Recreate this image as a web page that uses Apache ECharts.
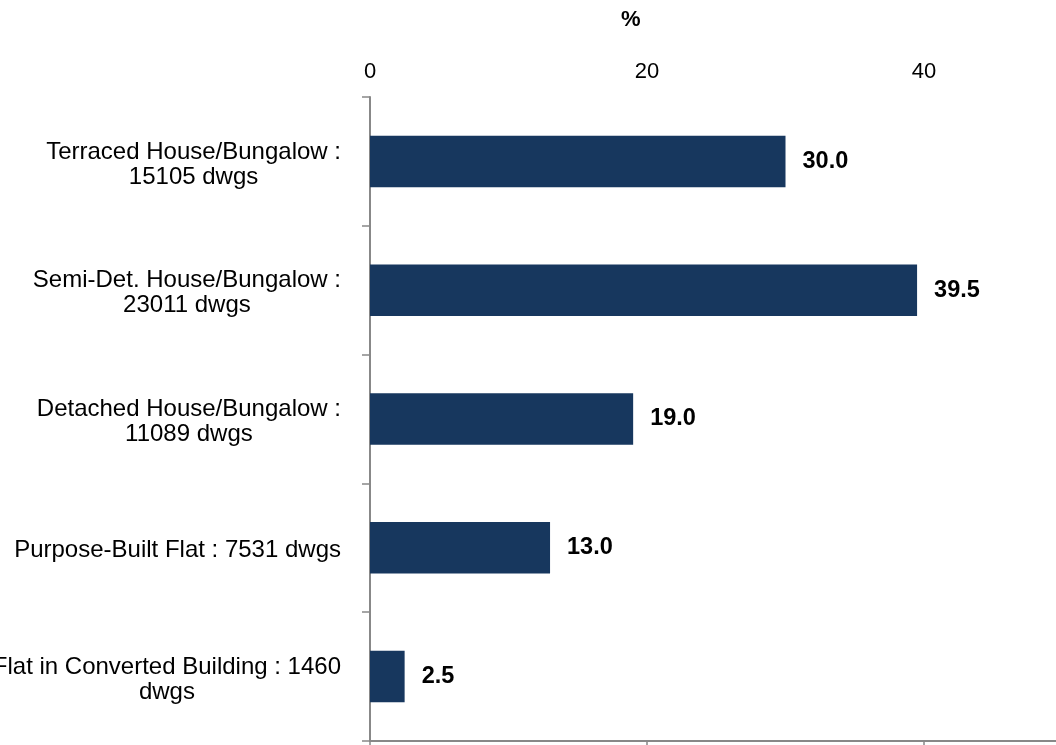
<!DOCTYPE html>
<html>
<head>
<meta charset="utf-8">
<script src="https://cdn.jsdelivr.net/npm/echarts@6/dist/echarts.min.js"></script>
<style>
  html, body { margin: 0; padding: 0; background: #fff; }
  #main { width: 1056px; height: 745px; }
</style>
</head>
<body>
<div id="main"></div>
<script>
// chart data
var categories = [
  "Terraced House/Bungalow :\n15105 dwgs",
  "Semi-Det. House/Bungalow :\n23011 dwgs",
  "Detached House/Bungalow :\n11089 dwgs",
  "Purpose-Built Flat : 7531 dwgs",
  "Flat in Converted Building : 1460\ndwgs"
];
var shares = [30.0, 39.5, 19.0, 13.0, 2.5];
// axis runs past the right edge of the picture
var xTicks = { min: 0, max: 50, interval: 20 };

var font = "Liberation Sans, Arial, sans-serif";
var mychart = echarts.init(document.getElementById("main"));

var axisCommon = {
  type: "value",
  min: xTicks.min,
  max: xTicks.max,
  interval: xTicks.interval,
  splitLine: { show: false }
};

mychart.setOption({
  animation: false,
  title: {
    text: "%",
    left: 616,
    top: 4,
    textStyle: { fontFamily: font, fontSize: 22, fontWeight: "bold", color: "#000" }
  },
  grid: {
    left: 370,
    top: 97,
    width: 692.5,
    bottom: 4,
    containLabel: false,
    outerBoundsMode: "none"
  },
  xAxis: [
    Object.assign({}, axisCommon, {
      position: "bottom",
      axisLine: { show: true, lineStyle: { color: "#888", width: 2 } },
      axisTick: { show: true, length: 6, lineStyle: { color: "#888", width: 1.5 } },
      axisLabel: { show: false }
    }),
    Object.assign({}, axisCommon, {
      position: "top",
      axisLine: { show: false },
      axisTick: { show: false },
      axisLabel: {
        show: true,
        margin: 14,
        showMaxLabel: false,
        fontFamily: font,
        fontSize: 22,
        color: "#000"
      }
    })
  ],
  yAxis: {
    type: "category",
    inverse: true,
    data: categories,
    axisLine: { show: true, lineStyle: { color: "#888", width: 2 } },
    axisTick: { show: true, length: 8, lineStyle: { color: "#888", width: 1.5 } },
    axisLabel: {
      margin: 29,
      align: "right",
      padding: [6, 0, 0, 0],
      fontFamily: font,
      fontSize: 24,
      color: "#000",
      lineHeight: 25,
      formatter: function (v) {
        return v.split("\n").map(function (s) { return "{c|" + s + "}"; }).join("\n");
      },
      rich: {
        c: { align: "center", fontFamily: font, fontSize: 24, lineHeight: 25, color: "#000" }
      }
    }
  },
  series: [
    {
      type: "bar",
      xAxisIndex: 0,
      data: shares,
      barWidth: "40%",
      itemStyle: { color: "#17375E" },
      label: {
        show: true,
        position: "right",
        distance: 17,
        fontFamily: font,
        fontSize: 23.5,
        fontWeight: "bold",
        color: "#000",
        formatter: function (p) { return p.value.toFixed(1); }
      }
    }
  ]
});
</script>
</body>
</html>
